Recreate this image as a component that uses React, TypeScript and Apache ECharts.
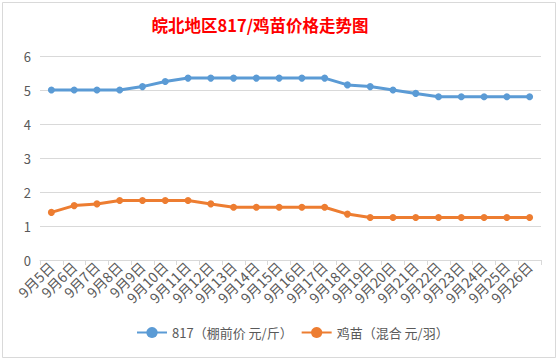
import React, { useEffect, useRef } from "react";
import * as echarts from "echarts";

const categories = [
  "9月5日", "9月6日", "9月7日", "9月8日", "9月9日", "9月10日", "9月11日", "9月12日",
  "9月13日", "9月14日", "9月15日", "9月16日", "9月17日", "9月18日", "9月19日", "9月20日",
  "9月21日", "9月22日", "9月23日", "9月24日", "9月25日", "9月26日",
];
const price817 = [5, 5, 5, 5, 5.1, 5.25, 5.35, 5.35, 5.35, 5.35, 5.35, 5.35, 5.35, 5.15, 5.1, 5.0, 4.9, 4.8, 4.8, 4.8, 4.8, 4.8];
const chickPrice = [1.4, 1.6, 1.65, 1.75, 1.75, 1.75, 1.75, 1.65, 1.55, 1.55, 1.55, 1.55, 1.55, 1.35, 1.25, 1.25, 1.25, 1.25, 1.25, 1.25, 1.25, 1.25];
const seriesNames = ["817（棚前价 元/斤）", "鸡苗（混合 元/羽）"];
const title = "皖北地区817/鸡苗价格走势图";

export default function App() {
  const ref = useRef<HTMLDivElement>(null);
  useEffect(() => {
    document.body.style.margin = "0";
    const chart = echarts.init(ref.current!, null, { renderer: "svg" });
    const font = "'Noto Sans CJK SC', 'Microsoft YaHei', sans-serif";
    chart.setOption({
      animation: false,
      backgroundColor: "#ffffff",
      title: {
        text: title,
        left: 255,
        textAlign: "center",
        top: 12,
        textStyle: { color: "#ff0000", fontSize: 16.5, fontWeight: "bold", fontFamily: font },
      },
      legend: {
        bottom: 16,
        left: 131,
        itemWidth: 30,
        itemHeight: 14,
        itemGap: 8,
        textStyle: { color: "#595959", fontSize: 13, fontFamily: font },
        data: seriesNames,
      },
      grid: { left: 40, right: 17, top: 56, bottom: 100, containLabel: false },
      xAxis: {
        type: "category",
        data: categories,
        boundaryGap: true,
        axisLine: { lineStyle: { color: "#d9d9d9", width: 1 } },
        axisTick: { show: true, length: 5, lineStyle: { color: "#d9d9d9" } },
        axisLabel: {
          rotate: 45,
          interval: 0,
          color: "#595959",
          fontSize: 14,
          fontFamily: font,
          margin: 4,
        },
      },
      yAxis: {
        type: "value",
        min: 0,
        max: 6,
        interval: 1,
        axisLine: { show: false },
        axisTick: { show: false },
        splitLine: { lineStyle: { color: "#d9d9d9", width: 1 } },
        axisLabel: { color: "#595959", fontSize: 13, fontFamily: font, margin: 9 },
      },
      series: [
        {
          name: seriesNames[0],
          type: "line",
          data: price817,
          symbol: "circle",
          symbolSize: 7,
          lineStyle: { width: 3, color: "#5b9bd5" },
          itemStyle: { color: "#5b9bd5" },
        },
        {
          name: seriesNames[1],
          type: "line",
          data: chickPrice,
          symbol: "circle",
          symbolSize: 7,
          lineStyle: { width: 3, color: "#ed7d31" },
          itemStyle: { color: "#ed7d31" },
        },
      ],
      graphic: [
        {
          type: "rect",
          shape: { x: 2.5, y: 2.5, width: 553, height: 355 },
          style: { fill: "none", stroke: "#d9d9d9", lineWidth: 1 },
          silent: true,
        },
      ],
    });
    return () => chart.dispose();
  }, []);
  return <div ref={ref} style={{ width: 558, height: 360 }} />;
}
